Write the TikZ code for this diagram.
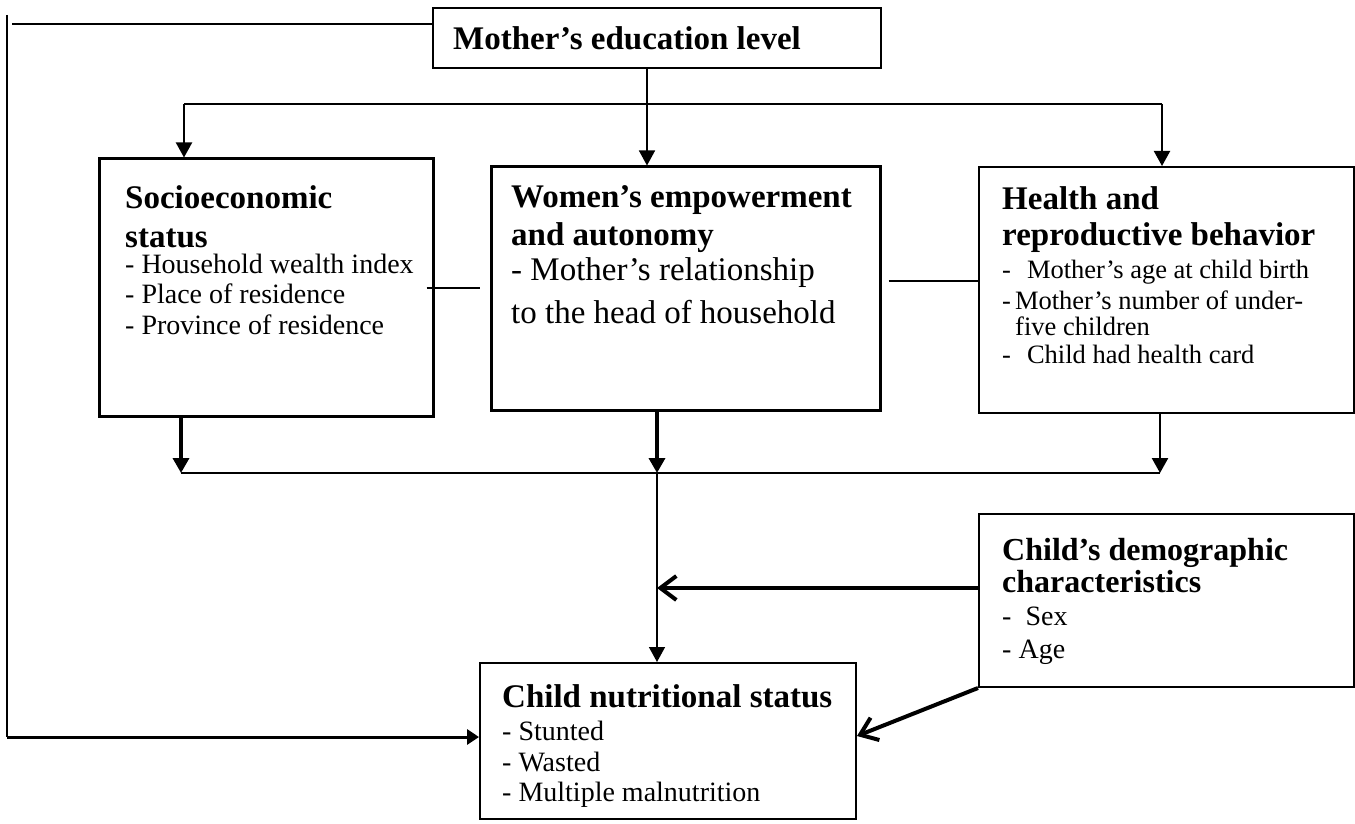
\documentclass[tikz,border=0pt]{standalone}
\usepackage{fontspec}
\setmainfont{Liberation Serif}
\usetikzlibrary{arrows.meta}
\tikzset{
  box/.style={draw,line width=2pt,inner sep=0pt},
  boxthick/.style={box,line width=3pt},
  ttl/.style={anchor=base west,inner sep=0pt,font=\fontsize{33}{36}\selectfont\bfseries},
  ttls/.style={anchor=base west,inner sep=0pt,font=\fontsize{32}{35}\selectfont\bfseries},
  itm/.style={anchor=base west,inner sep=0pt,font=\fontsize{28}{30}\selectfont},
  itml/.style={anchor=base west,inner sep=0pt,font=\fontsize{33}{36}\selectfont},
  itms/.style={anchor=base west,inner sep=0pt,font=\fontsize{26.5}{29}\selectfont},
  thin/.style={line width=1.5pt},
  mid/.style={line width=2pt},
  arr/.style={line width=2pt,-{Triangle[length=15pt,width=16pt]}},
  arrthin/.style={line width=1.5pt,-{Triangle[length=15pt,width=16pt]}},
  arrthick/.style={line width=3.5pt,-{Triangle[length=15pt,width=16pt]}},
  arrleft/.style={line width=3pt,-{Triangle[length=12pt,width=15pt]}},
  openarr/.style={line width=4pt,-{Straight Barb[length=16pt,width=24pt,line width=4pt]}}
}
\begin{document}
\begin{tikzpicture}[x=1pt,y=-1pt]
\fill[white] (0,0) rectangle (1355,824);
\useasboundingbox (0,0) rectangle (1355,824);

% boxes
\node[box,minimum width=448pt,minimum height=60pt] (edu) at (657,38) {};
\node[boxthick,minimum width=334pt,minimum height=257pt] (ses) at (266,287.5) {};
\node[boxthick,minimum width=389pt,minimum height=243pt] (wea) at (685.5,288.5) {};
\node[box,minimum width=375pt,minimum height=246pt] (hrb) at (1166.5,290) {};
\node[box,minimum width=375pt,minimum height=173pt] (dem) at (1166.5,600.5) {};
\node[box,minimum width=376pt,minimum height=156pt] (nut) at (668,741) {};

% texts
\node[ttl] (edut) at (453,50) {Mother’s education level};

\node[ttl] (ses1) at (125,208) {Socioeconomic};
\node[ttl] (ses2) at (125,247) {status};
\node[itm] (ses3) at (125,273) {- Household wealth index};
\node[itm] (ses4) at (125,303) {- Place of residence};
\node[itm] (ses5) at (125,334) {- Province of residence};

\node[ttl] (wea1) at (511,207) {Women’s empowerment};
\node[ttl] (wea2) at (511,245) {and autonomy};
\node[itml] (wea3) at (511,280) {- Mother’s relationship};
\node[itml] (wea4) at (511,323) {to the head of household};

\node[ttl] (hrb1) at (1002,209) {Health and};
\node[ttl] (hrb2) at (1002,245) {reproductive behavior};
\node[itms] (hrb3) at (1002,278) {-\hspace{16pt}Mother’s age at child birth};
\node[itms] (hrb4) at (1002,309) {-\hspace{4pt}Mother’s number of under-};
\node[itms] (hrb5) at (1015,335) {five children};
\node[itms] (hrb6) at (1002,363) {-\hspace{16pt}Child had health card};

\node[ttls] (dem1) at (1002,560) {Child’s demographic};
\node[ttls] (dem2) at (1002,592) {characteristics};
\node[itm] (dem3) at (1002,625) {-\hspace{14pt}Sex};
\node[itm] (dem4) at (1002,658) {- Age};

\node[ttl] (nut1) at (502,707) {Child nutritional status};
\node[itm] (nut2) at (502,740) {- Stunted};
\node[itm] (nut3) at (502,771) {- Wasted};
\node[itm] (nut4) at (502,801) {- Multiple malnutrition};

% coordinates
\coordinate (lh) at (12,24);
\coordinate (lt) at (7,15);
\coordinate (lb) at (7,737);
\coordinate (brL) at (184,104);
\coordinate (brR) at (1162,104);
\coordinate (busL) at (181,473);
\coordinate (busM) at (657,473);
\coordinate (busR) at (1160,473);
\coordinate (dmid) at (657,588);

% connectors
\draw[mid] (edu.west |- lh) -- (lh);
\draw[thin] (lt) -- (lb);
\draw[arrleft] (lb) -- (lb -| nut.west);

\draw[arrthin] ([xshift=-10pt]edu.south) -- ([xshift=-10pt]edu.south |- wea.north);
\draw[mid] (brL) -- (brR);
\draw[arr] (brL) -- (brL |- ses.north);
\draw[arr] (brR) -- (brR |- hrb.north);

\draw[mid] ([xshift=-8pt]ses.east) -- ([xshift=-10pt]wea.west |- ses.east);
\draw[thin] ([xshift=7pt,yshift=7.5pt]wea.east) -- ([yshift=9pt]hrb.west);

\draw[arrthick] (ses.south -| busL) -- (busL);
\draw[arrthick] (wea.south -| busM) -- (busM);
\draw[arr,line width=2.5pt] (hrb.south -| busR) -- (busR);
\draw[thin] (busL) -- (busR);
\draw[arrthin] (busM) -- (busM |- nut.north);

\draw[openarr] (dem.west |- dmid) -- (dmid);
\draw[openarr] (dem.south west) -- ([yshift=5pt]nut.east);
\end{tikzpicture}
\end{document}
